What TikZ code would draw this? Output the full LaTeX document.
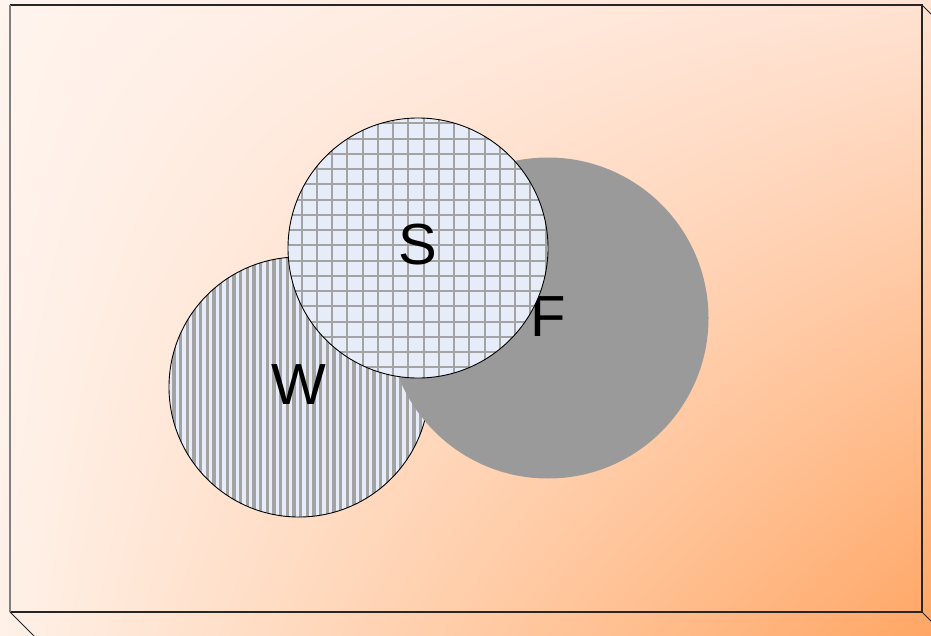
\documentclass[tikz,border=0pt]{standalone}
\usepackage{fontspec}
\setmainfont{Liberation Sans}
\usetikzlibrary{shadings}
\definecolor{tl}{HTML}{FFF4EE}
\definecolor{tr}{HTML}{FFE2D2}
\definecolor{bl}{HTML}{FFF1E8}
\definecolor{br}{HTML}{FFA664}
\definecolor{fgray}{HTML}{9A9A9A}
\definecolor{paleblue}{HTML}{E6ECF8}
\definecolor{hatch}{HTML}{A3A3A3}
\begin{document}
\begin{tikzpicture}[x=1pt,y=-1pt,
  lbl/.style={font=\fontsize{58}{60}\selectfont},
  setcircle/.style={circle, inner sep=0pt, draw=black, line width=0.9pt}]
\useasboundingbox (0,0) rectangle (931,635);
\clip (0,0) rectangle (931,635);
% background gradient
\shade[upper left=tl, upper right=tr, lower left=bl, lower right=br] (0,0) rectangle (931,635);
% box outline
\coordinate (A) at (10,5);
\coordinate (B) at (922,5);
\coordinate (C) at (922,612);
\coordinate (D) at (10,612);
\draw[line width=1.3pt, black!85] (A) -- (B) -- (C) -- (D);
\draw[line width=1.6pt, black!50] (D) -- (A);
\draw[line width=1pt, black!85] (B) -- ++(24,24);
\draw[line width=1pt, black!85] (C) -- ++(24,24);
\draw[line width=1pt, black!85] (D) -- ++(24,24);
% W circle
\node[setcircle, minimum size=260pt, fill=paleblue,
  path picture={
    \foreach \k in {0,...,42}
      \fill[hatch] (-140+\k*6.667,-140) rectangle ++(3.3,280);
  }] (W) at (299,387) {};
\node[lbl] (Wl) at (299,385) {W};
% F circle
\node[circle, inner sep=0pt, minimum size=321pt, fill=fgray] (F) at (548,318) {};
\node[lbl] (Fl) at (548,317) {F};
% S circle
\node[setcircle, minimum size=260pt, fill=paleblue,
  path picture={
    \foreach \k in {0,...,19} {
      \fill[hatch] (-148+\k*15.25,-140) rectangle ++(2,280);
      \fill[hatch] (-140,-141+\k*15.25) rectangle ++(280,2);
    }
  }] (S) at (418,248) {};
\node[lbl] (Sl) at (418,245) {S};
\end{tikzpicture}
\end{document}
